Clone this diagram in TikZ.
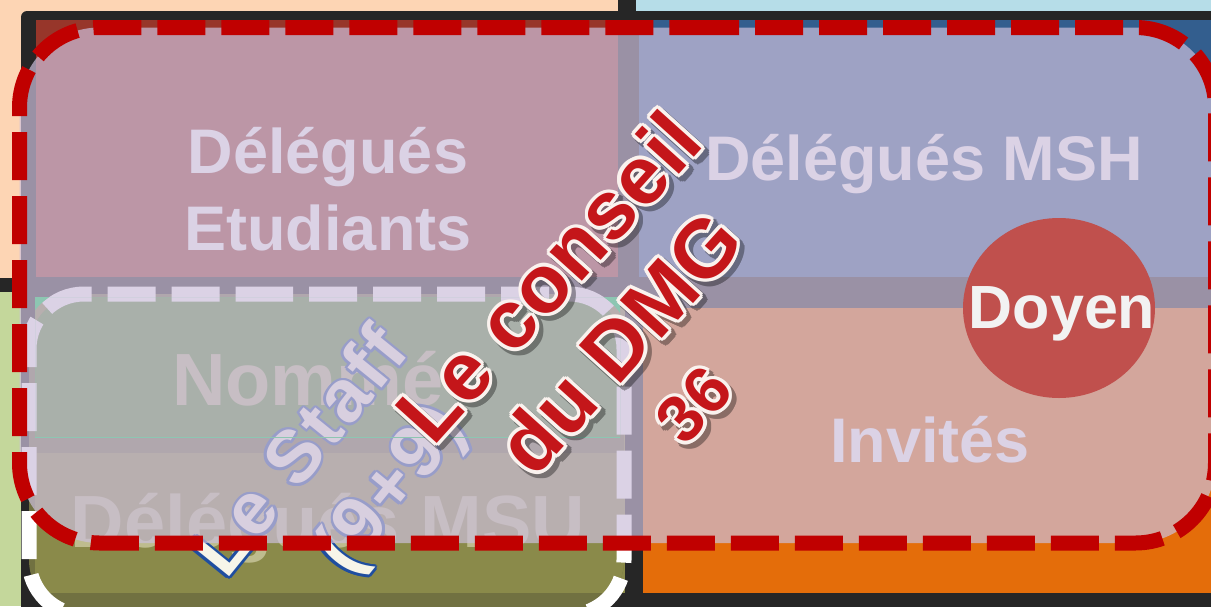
\documentclass[tikz,border=0pt]{standalone}
\usepackage{fontspec}
\setmainfont{Liberation Sans}
\usetikzlibrary{shapes.geometric}
\definecolor{frame}{RGB}{38,38,38}
\definecolor{peach}{RGB}{253,213,180}
\definecolor{lblue}{RGB}{182,221,232}
\definecolor{lgreen}{RGB}{196,215,155}
\definecolor{qred}{RGB}{151,54,42}
\definecolor{qblue}{RGB}{51,94,142}
\definecolor{qorange}{RGB}{228,109,10}
\definecolor{qolive}{RGB}{138,138,74}
\definecolor{staffdark}{RGB}{113,113,65}
\definecolor{nomme}{RGB}{87,144,56}
\definecolor{dimtext}{RGB}{190,188,142}
\definecolor{overlaycol}{RGB}{204,191,219}
\definecolor{tealcorner}{RGB}{141,198,178}
\definecolor{dashred}{RGB}{192,0,0}
\definecolor{doyencol}{RGB}{192,80,77}
\definecolor{doyentext}{RGB}{242,242,242}
\definecolor{staffline}{RGB}{31,78,160}
\definecolor{cream}{RGB}{247,245,233}
\definecolor{wordred}{RGB}{196,22,26}
\definecolor{wordedge}{RGB}{250,242,238}
\newcommand\qfont{\bfseries\fontsize{63}{63}\selectfont}
\newcommand\bigqfont{\bfseries\fontsize{74}{74}\selectfont}
\newcommand\doyenfont{\bfseries\fontsize{61}{61}\selectfont}
\newcommand\cfont{\bfseries\fontsize{82}{82}\selectfont\addfontfeature{LetterSpace=1}}
\newcommand\cfontsmall{\bfseries\fontsize{66}{66}\selectfont\addfontfeature{LetterSpace=2}}
\newcommand\sfontx{\bfseries\fontsize{74}{74}\selectfont\addfontfeature{LetterSpace=5}}
\newcommand\outlinetext[6]{\foreach \ang in {0,30,...,330}{\node[rotate=#2,font=#3,text=#4,inner sep=0pt] at ([shift={(\ang:#5)}]#1) {#6};}}
\tikzset{
  qtext/.style={font=\qfont, text=white, inner sep=0pt, anchor=base},
  dimlbl/.style={font=\bigqfont, text=dimtext, inner sep=0pt, anchor=base},
  staffdash/.style={draw=white, line width=15pt, dash pattern=on 48pt off 16pt},
  reddash/.style={draw=dashred, line width=15pt, dash pattern=on 48pt off 16pt},
}
\begin{document}
\begin{tikzpicture}[x=1pt,y=-1pt]
\clip (0,0) rectangle (1211,606);
% background
\fill[frame] (0,0) rectangle (1211,606);
\fill[peach] (0,0) rectangle (618,278);
\fill[lblue] (636,0) rectangle (1211,11);
\fill[lgreen] (0,292) rectangle (21,606);
\fill[frame, rounded corners=6pt] (21,11) rectangle (1240,640);
% quadrants
\fill[qred] (36,20) rectangle (618,277);
\fill[qblue] (639,20) rectangle (1211,277);
\fill[qorange] (643,308) rectangle (1211,593);
\fill[qolive] (35,297) rectangle (625,593);
% staff interior
\begin{scope}
\clip[rounded corners=55pt] (29,294) rectangle (624,615);
\fill[staffdark] (29,294) rectangle (624,615);
\fill[nomme] (35,297) rectangle (620,437);
\fill[qolive] (35,453) rectangle (625,593);
\end{scope}
% quadrant labels
\node[qtext] (etu1) at (328,173) {Délégués};
\node[qtext] (etu2) at (328,250) {Etudiants};
\node[qtext] (msh) at (924,180) {Délégués MSH};
\node[qtext] (inv) at (930,462) {Invités};
\node[dimlbl] (nom) at (308,405) {Nommé};
\node[dimlbl] (msu) at (328,547) {Délégués MSU};
% staff box
\draw[staffdash, rounded corners=55pt] (190,294) -- (624,294) -- (624,615) -- (29,615) -- (29,294) -- cycle;
\coordinate (s1) at (298,450);
\coordinate (s2) at (393,491);
\outlinetext{s1}{51}{\sfontx}{staffline}{2.6}{Le Staff}
\outlinetext{s2}{51}{\sfontx}{staffline}{2.6}{(9+9)}
\node[rotate=51,font=\sfontx,text=cream,inner sep=0pt] (staff1) at (s1) {Le Staff};
\node[rotate=51,font=\sfontx,text=cream,inner sep=0pt] (staff2) at (s2) {(9+9)};
% translucent council overlay
\fill[overlaycol, opacity=0.7, rounded corners=80pt] (19.5,27.5) rectangle (1215.5,543);
% teal corners of the Nommé box
\begin{scope}
\clip (35,297) rectangle (620,437);
\fill[tealcorner, even odd rule] (35,297) rectangle (620,437) [rounded corners=62.5pt] (21.5,286.5) rectangle (631.5,622.5);
\end{scope}
% red dashed border
\draw[reddash, rounded corners=80pt] (611,27.5) -- (1215.5,27.5) -- (1215.5,543) -- (19.5,543) -- (19.5,27.5) -- cycle;
% Doyen
\node[ellipse, fill=doyencol, minimum width=192pt, minimum height=180pt, inner sep=0pt] (doyenbg) at (1059,308) {};
\node[font=\doyenfont, text=doyentext, anchor=base, inner sep=0pt] (doyen) at (1062,328) {Doyen};
% Le conseil du DMG 36
\coordinate (c1) at (548,276);
\coordinate (c2) at (619,342);
\coordinate (c3) at (694,405);
\coordinate (h1) at (552,280);
\coordinate (h2) at (623,346);
\coordinate (h3) at (698,409);
\begin{scope}[transparency group, opacity=0.35]
\outlinetext{h1}{48}{\cfont}{black}{4}{Le conseil}
\outlinetext{h2}{48}{\cfont}{black}{4}{du DMG}
\outlinetext{h3}{48}{\cfontsmall}{black}{4}{36}
\end{scope}
\outlinetext{c1}{48}{\cfont}{wordedge}{3.5}{Le conseil}
\outlinetext{c2}{48}{\cfont}{wordedge}{3.5}{du DMG}
\outlinetext{c3}{48}{\cfontsmall}{wordedge}{3.5}{36}
\node[rotate=48,font=\cfont,text=wordred,inner sep=0pt] (conseil1) at (c1) {Le conseil};
\node[rotate=48,font=\cfont,text=wordred,inner sep=0pt] (conseil2) at (c2) {du DMG};
\node[rotate=48,font=\cfontsmall,text=wordred,inner sep=0pt] (conseil3) at (c3) {36};
\end{tikzpicture}
\end{document}
